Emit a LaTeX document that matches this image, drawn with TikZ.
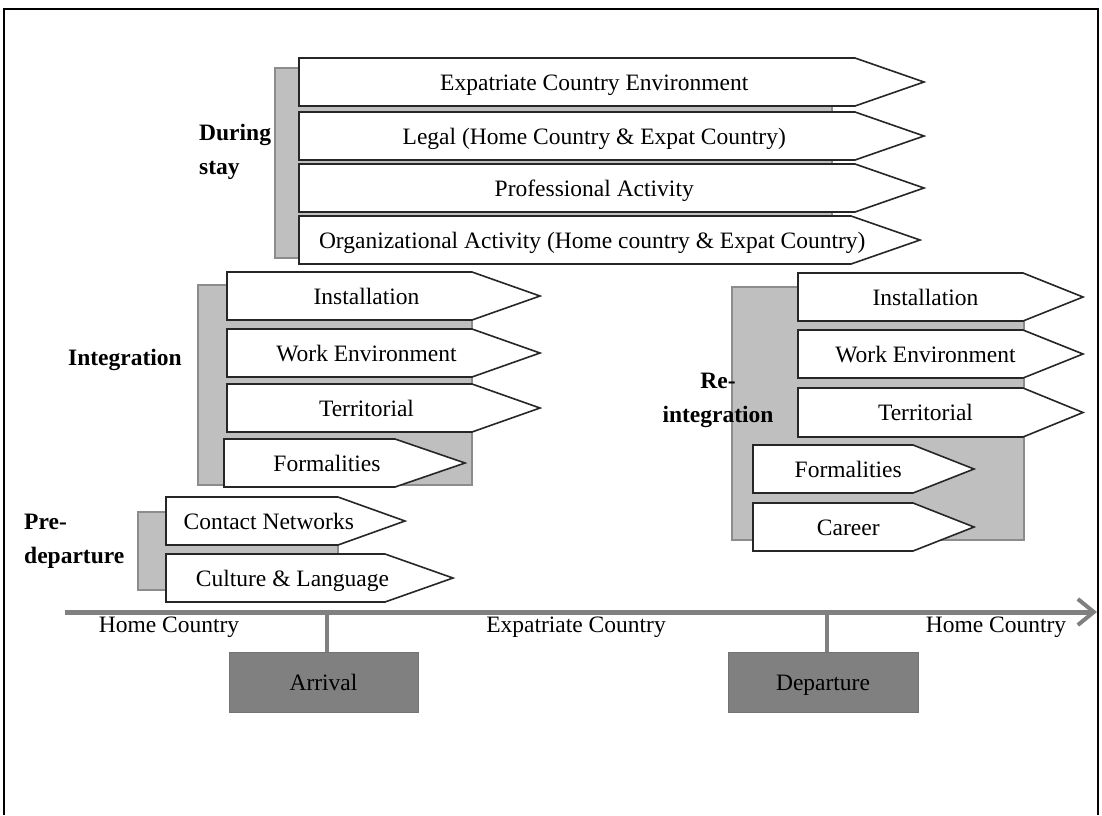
\documentclass[tikz,border=0pt]{standalone}
\usepackage{fontspec}
\setmainfont{Liberation Serif}
\usetikzlibrary{arrows.meta}

\tikzset{
  groupbar/.style={fill=black!25, draw=black!45, line width=1.5pt},
  arrowbox/.style={fill=white, draw=black!85, line width=1.6pt, line join=miter},
  boxtext/.style={inner sep=0pt, text height=16pt, text depth=0pt,
                  font=\fontsize{23.5}{28}\selectfont},
  phase/.style={inner sep=0pt, font=\fontsize{23.5}{34}\selectfont\bfseries},
  axislabel/.style={inner sep=0pt, font=\fontsize{23.5}{28}\selectfont},
  timeaxis/.style={draw=black!50, line width=5pt},
  tick/.style={draw=black!50, line width=4pt},
  event/.style={fill=black!50, draw=black!55, line width=1pt, inner sep=0pt,
                text height=16pt, text depth=0pt,
                font=\fontsize{23.5}{28}\selectfont},
  frame/.style={draw=black, line width=2.5pt}
}

% pointed label box: name, left, top, bottom, start of point, tip, text
\newcommand{\pentarrow}[7]{%
  \draw[arrowbox] (#2,#3) -- (#5,#3) -- (#6,{(#3+#4)/2}) -- (#5,#4) -- (#2,#4) -- cycle;
  \node[boxtext] (#1) at ({(2*#2+#5+#6)/4},{(#3+#4)/2}) {#7};
}

\begin{document}
\begin{tikzpicture}[x=1pt,y=-1pt]
\useasboundingbox (0,0) rectangle (1102,815);

% outer frame (open at the bottom)
\draw[frame] (4,815) -- (4,9) -- (1098,9) -- (1098,815);

% ---- During stay ----
\draw[groupbar] (275,68) rectangle (832,258);
\pentarrow{ds1}{299}{58}{106}{855}{924}{Expatriate Country Environment}
\pentarrow{ds2}{299}{112}{160}{855}{924}{Legal (Home Country \& Expat Country)}
\pentarrow{ds3}{299}{164}{212}{855}{924}{Professional Activity}
\pentarrow{ds4}{299}{216}{264}{851}{920}{Organizational Activity (Home country \& Expat Country)}
\node[phase, align=left, anchor=west] (during) at (199,152) {During\\stay};

% ---- Integration ----
\draw[groupbar] (198,285) rectangle (472,485);
\pentarrow{in1}{227}{272}{320}{472}{540}{Installation}
\pentarrow{in2}{227}{329}{377}{472}{540}{Work Environment}
\pentarrow{in3}{227}{384}{432}{472}{540}{Territorial}
\pentarrow{in4}{224}{439}{487}{395}{465}{Formalities}
\node[phase, anchor=west] (integ) at (68,360) {Integration};

% ---- Pre-departure ----
\draw[groupbar] (138,512) rectangle (338,590);
\pentarrow{pd1}{166}{497}{545}{338}{405}{Contact Networks}
\pentarrow{pd2}{166}{554}{602}{385}{453}{Culture \& Language}
\node[phase, align=left, anchor=west] (predep) at (24,541) {Pre-\\departure};

% ---- Re-integration ----
\draw[groupbar] (732,287) rectangle (1024,540);
\pentarrow{re1}{798}{273}{321}{1023}{1083}{Installation}
\pentarrow{re2}{798}{330}{378}{1023}{1083}{Work Environment}
\pentarrow{re3}{798}{388}{437}{1023}{1083}{Territorial}
\pentarrow{re4}{753}{445}{493}{913}{974}{Formalities}
\pentarrow{re5}{753}{503}{551}{913}{974}{Career}
\node[phase, align=center] (reint) at (718,400) {Re-\\integration};

% ---- time line ----
\coordinate (tstart) at (65,612);
\coordinate (tend) at (1097,612);
\draw[timeaxis, -{Straight Barb[length=16pt,width=26pt,line width=4pt]}] (tstart) -- (tend);

\node[event, minimum width=189pt, minimum height=60pt] (arrival) at (323.5,682) {Arrival};
\node[event, minimum width=190pt, minimum height=60pt] (departure) at (823,682) {Departure};
\coordinate (arrtick) at (327,612);
\coordinate (deptick) at (827,612);
\draw[tick] (arrtick) -- (arrtick |- arrival.north);
\draw[tick] (deptick) -- (deptick |- departure.north);

\node[axislabel] (home1) at (169,627) {Home Country};
\node[axislabel] (expat) at (576,627) {Expatriate Country};
\node[axislabel] (home2) at (996,627) {Home Country};
\end{tikzpicture}
\end{document}
